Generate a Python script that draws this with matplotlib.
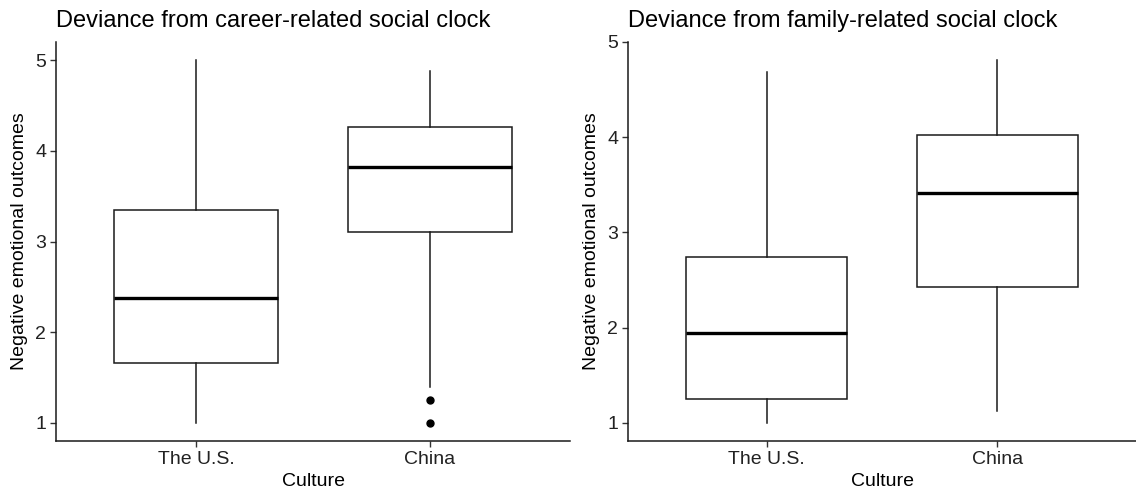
import matplotlib
matplotlib.use("Agg")
import matplotlib.pyplot as plt

plt.rcParams["font.family"] = ["Liberation Sans", "DejaVu Sans"]

cultures = ["The U.S.", "China"]

# career-related social clock
career_whislo = [1.0, 1.39]
career_q1 = [1.66, 3.10]
career_med = [2.38, 3.82]
career_q3 = [3.35, 4.26]
career_whishi = [5.0, 4.88]
career_fliers = [[], [1.25, 1.0]]

# family-related social clock
family_whislo = [1.0, 1.13]
family_q1 = [1.25, 2.43]
family_med = [1.94, 3.41]
family_q3 = [2.74, 4.02]
family_whishi = [4.69, 4.81]
family_fliers = [[], []]

titles = ["Deviance from career-related social clock",
          "Deviance from family-related social clock"]


def make_stats(lo, q1, med, q3, hi, fl):
    out = []
    for i in range(len(cultures)):
        out.append(dict(whislo=lo[i], q1=q1[i], med=med[i], q3=q3[i],
                        whishi=hi[i], fliers=fl[i], label=cultures[i]))
    return out


panels = [
    make_stats(career_whislo, career_q1, career_med, career_q3, career_whishi, career_fliers),
    make_stats(family_whislo, family_q1, family_med, family_q3, family_whishi, family_fliers),
]
ylims = [(0.8, 5.2), (0.81, 4.99)]
rects = [[56 / 1136, 51 / 492, 514 / 1136, 399 / 492],
         [628 / 1136, 51 / 492, 508 / 1136, 399 / 492]]

fig = plt.figure(figsize=(11.36, 4.92), dpi=100)
fig.patch.set_facecolor("white")

for k in range(2):
    ax = fig.add_axes(rects[k])
    ax.bxp(panels[k], positions=[1, 2], widths=0.7, patch_artist=True,
           showcaps=False,
           boxprops=dict(facecolor="white", edgecolor="#1a1a1a", linewidth=1.1),
           whiskerprops=dict(color="#1a1a1a", linewidth=1.1),
           medianprops=dict(color="black", linewidth=2.4),
           flierprops=dict(marker="o", markerfacecolor="black",
                           markeredgecolor="black", markersize=5))
    ax.set_xlim(0.4, 2.6)
    ax.set_ylim(*ylims[k])
    ax.set_yticks([1, 2, 3, 4, 5])
    ax.set_xticks([1, 2])
    ax.set_xticklabels(cultures)
    for s in ["top", "right"]:
        ax.spines[s].set_visible(False)
    for s in ["left", "bottom"]:
        ax.spines[s].set_linewidth(1.1)
        ax.spines[s].set_color("#1a1a1a")
    ax.tick_params(direction="out", length=4, width=1.0, color="#333333",
                   labelsize=14, labelcolor="#222222", pad=3)
    ax.set_xlabel("Culture", fontsize=14, labelpad=4)
    ax.set_ylabel("Negative emotional outcomes", fontsize=14, labelpad=5)
    ax.set_title(titles[k], loc="left", fontsize=17, pad=11)

fig.savefig("out.png", dpi=100, facecolor="white")
